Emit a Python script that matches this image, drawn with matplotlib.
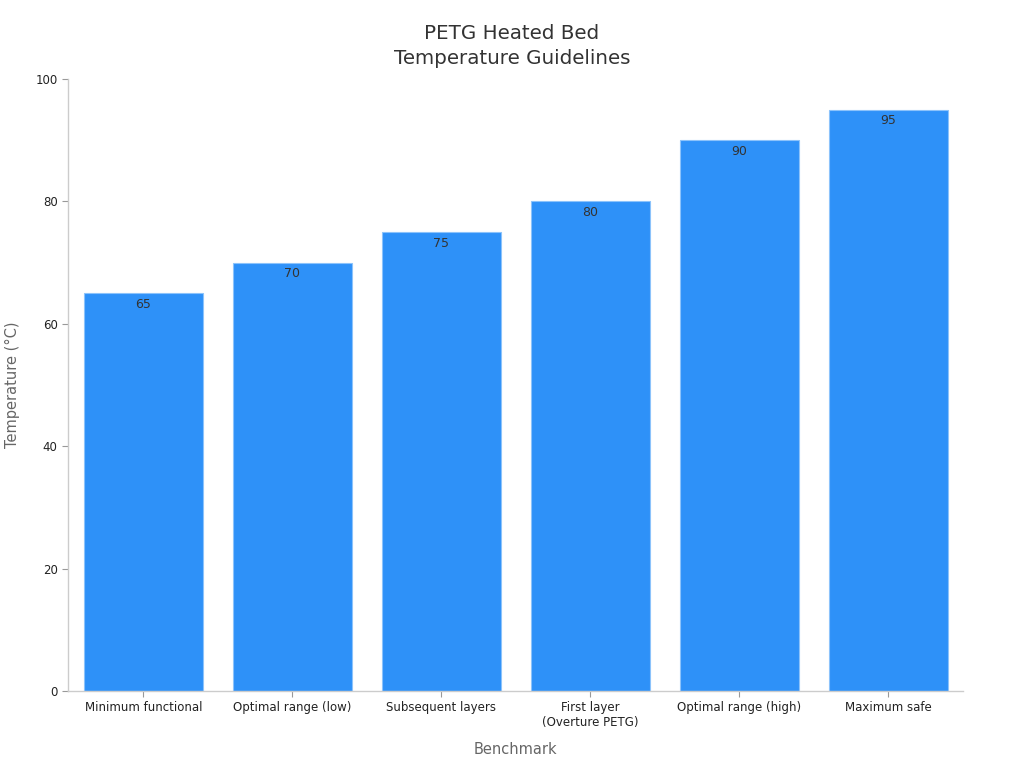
import matplotlib
matplotlib.use("Agg")
import matplotlib.pyplot as plt

categories = ["Minimum functional", "Optimal range (low)", "Subsequent layers",
              "First layer\n(Overture PETG)", "Optimal range (high)", "Maximum safe"]
temps = [65, 70, 75, 80, 90, 95]
yticks = [0, 20, 40, 60, 80, 100]

plt.rcParams['font.family'] = ['DejaVu Sans']
fig = plt.figure(figsize=(10.24, 7.68), dpi=100)
ax = fig.add_axes([68/1024, 1-691/768, (963-68)/1024, (691-79)/768])

x = range(len(categories))
bars = ax.bar(x, temps, width=0.8, color="#2e91f8", edgecolor="#8cc3fb", linewidth=0.8)
for xi, v in zip(x, temps):
    ax.text(xi, v - 0.75, f"{v}", ha="center", va="top", fontsize=9, color="#333333")

ax.set_xlim(-0.505, 5.5)
ax.set_ylim(0, 100)
ax.set_yticks(yticks)
ax.set_xticks(list(x))
ax.set_xticklabels(categories, fontsize=8.5, color="#222222")
ax.tick_params(axis="y", labelsize=8.5, labelcolor="#222222", color="#999999", length=4)
ax.tick_params(axis="x", color="#999999", length=4)
for s in ["top", "right"]:
    ax.spines[s].set_visible(False)
for s in ["left", "bottom"]:
    ax.spines[s].set_color("#cccccc")
    ax.spines[s].set_linewidth(1.0)

ax.set_xlabel("Benchmark", fontsize=10.5, color="#666666", labelpad=9)
ax.set_ylabel("Temperature (°C)", fontsize=10.5, color="#666666", labelpad=11)
fig.text(0.5, 1-46/768, "PETG Heated Bed\nTemperature Guidelines", ha="center", va="center",
         fontsize=14.3, color="#333333", linespacing=1.45)

fig.savefig("out.png", dpi=100)
